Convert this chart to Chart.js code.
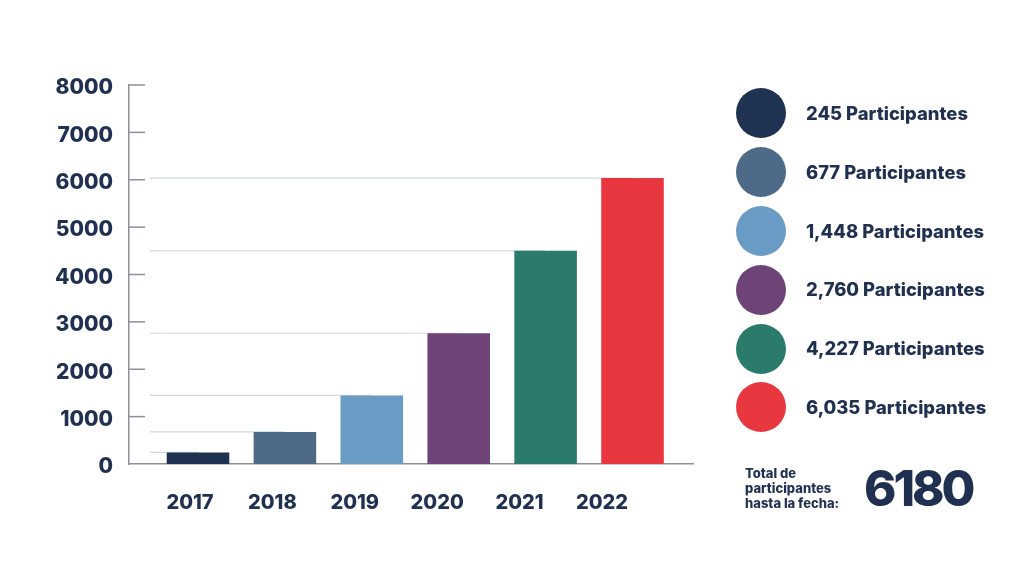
<!DOCTYPE html>
<html lang="es">
<head>
<meta charset="utf-8">
<title>Participantes por año</title>
<script src="https://cdn.jsdelivr.net/npm/chart.js@4.4.1/dist/chart.umd.min.js"></script>
<style>
  body { margin: 0; background: #ffffff; font-family: 'Inter', sans-serif; color: #1f3050; }
  #wrapper { position: relative; width: 1024px; height: 576px; overflow: hidden; }
  #chart-box { position: absolute; left: 0; top: 0; width: 1024px; height: 576px; }
  #legend { position: absolute; left: 736px; top: 88px; margin: 0; padding: 0; list-style: none; }
  #legend li { display: flex; align-items: center; height: 50px; margin-bottom: 8.9px; }
  #legend .dot { width: 50px; height: 50px; border-radius: 50%; flex: none; }
  #legend .txt { margin-left: 20px; font-size: 18.4px; line-height: 1; font-weight: 800; white-space: nowrap; }
  #total-label { position: absolute; left: 745px; top: 466px; width: 100px; font-size: 13px; line-height: 15px; font-weight: 800; }
  #total-value { position: absolute; left: 864px; top: 464px; font-size: 49px; line-height: 1; font-weight: 800; letter-spacing: -3px; }
</style>
</head>
<body>
<div id="wrapper">
  <div id="chart-box"><canvas id="myChart"></canvas></div>
  <ul id="legend"></ul>
  <div id="total-label"></div>
  <div id="total-value"></div>
</div>
<script>
// Datos
const years = ['2017', '2018', '2019', '2020', '2021', '2022'];
const participantes = [245, 677, 1448, 2760, 4500, 6035];
const legendLabels = ['245 Participantes', '677 Participantes', '1,448 Participantes',
                      '2,760 Participantes', '4,227 Participantes', '6,035 Participantes'];
const barColors = ['#1f3252', '#4e6a89', '#6a9bc4', '#6d4378', '#2b7b6c', '#e8373f'];
const yMax = 8000;
const yStep = 1000;
const totalLabel = 'Total de participantes hasta la fecha:';
const totalValue = '6180';

const textColor = '#1f3050';
const axisColor = '#8e9199';

// Líneas horizontales desde el eje hasta cada barra + marcas del eje Y
const guidePlugin = {
  id: 'guides',
  beforeDatasetsDraw(chart) {
    const ctx = chart.ctx;
    const area = chart.chartArea;
    const yScale = chart.scales.y;
    ctx.save();
    ctx.lineWidth = 1.2;
    ctx.strokeStyle = '#cbdae6';
    chart.getDatasetMeta(0).data.forEach(bar => {
      ctx.beginPath();
      ctx.moveTo(area.left + 21, bar.y);
      ctx.lineTo(bar.x, bar.y);
      ctx.stroke();
    });
    ctx.lineWidth = 1.5;
    ctx.strokeStyle = axisColor;
    yScale.ticks.forEach(t => {
      if (t.value === 0) return;
      const py = yScale.getPixelForValue(t.value);
      ctx.beginPath();
      ctx.moveTo(area.left, py);
      ctx.lineTo(area.left + 16, py);
      ctx.stroke();
    });
    ctx.restore();
  }
};

// Una marca por año (sirve también para el ancho de las barras)
const yearTicks = axis => { axis.ticks = years.map((_, i) => ({ value: i })); };

const ctx = document.getElementById('myChart').getContext('2d');
new Chart(ctx, {
  type: 'bar',
  data: {
    datasets: [{
      label: 'Participantes',
      data: participantes.map((v, i) => ({ x: i, y: v })),
      backgroundColor: barColors,
      borderWidth: 0,
      barPercentage: 1,
      categoryPercentage: 0.72
    }]
  },
  options: {
    responsive: true,
    maintainAspectRatio: false,
    animation: false,
    layout: { padding: { top: 85, right: 331, bottom: 52, left: 0 } },
    plugins: {
      legend: { display: false },
      tooltip: { enabled: false }
    },
    scales: {
      x: {
        type: 'linear',
        min: -0.794,
        max: 5.696,
        offset: false,
        bounds: 'data',
        grid: { display: false, drawTicks: false, offset: false },
        border: { display: true, color: axisColor, width: 1.5 },
        ticks: { display: false },
        afterBuildTicks: yearTicks,
        afterFit: axis => { axis.height = 0; }
      },
      x2: {
        type: 'linear',
        position: 'bottom',
        min: -0.74,
        max: 6.105,
        offset: false,
        bounds: 'data',
        grid: { display: false, drawTicks: false, offset: false },
        border: { display: false },
        afterBuildTicks: yearTicks,
        afterFit: axis => { axis.height = 60; },
        ticks: {
          autoSkip: false,
          maxRotation: 0,
          padding: 27,
          color: textColor,
          font: { family: 'Inter', size: 20, weight: 800 },
          callback: value => years[value]
        }
      },
      y: {
        min: 0,
        max: yMax,
        grid: { display: false, drawTicks: false },
        border: { display: true, color: axisColor, width: 1.5 },
        afterFit: axis => { axis.width = 129; },
        ticks: {
          stepSize: yStep,
          padding: 16,
          labelOffset: 3,
          color: textColor,
          font: { family: 'Inter', size: 21, weight: 800 },
          callback: value => String(value)
        }
      }
    }
  },
  plugins: [guidePlugin]
});

// Leyenda en HTML a partir de los mismos arrays
const legend = document.getElementById('legend');
legendLabels.forEach((label, i) => {
  const li = document.createElement('li');
  const dot = document.createElement('span');
  dot.className = 'dot';
  dot.style.background = barColors[i];
  const txt = document.createElement('span');
  txt.className = 'txt';
  txt.textContent = label;
  li.appendChild(dot);
  li.appendChild(txt);
  legend.appendChild(li);
});

document.getElementById('total-label').textContent = totalLabel;
document.getElementById('total-value').textContent = totalValue;
</script>
</body>
</html>
